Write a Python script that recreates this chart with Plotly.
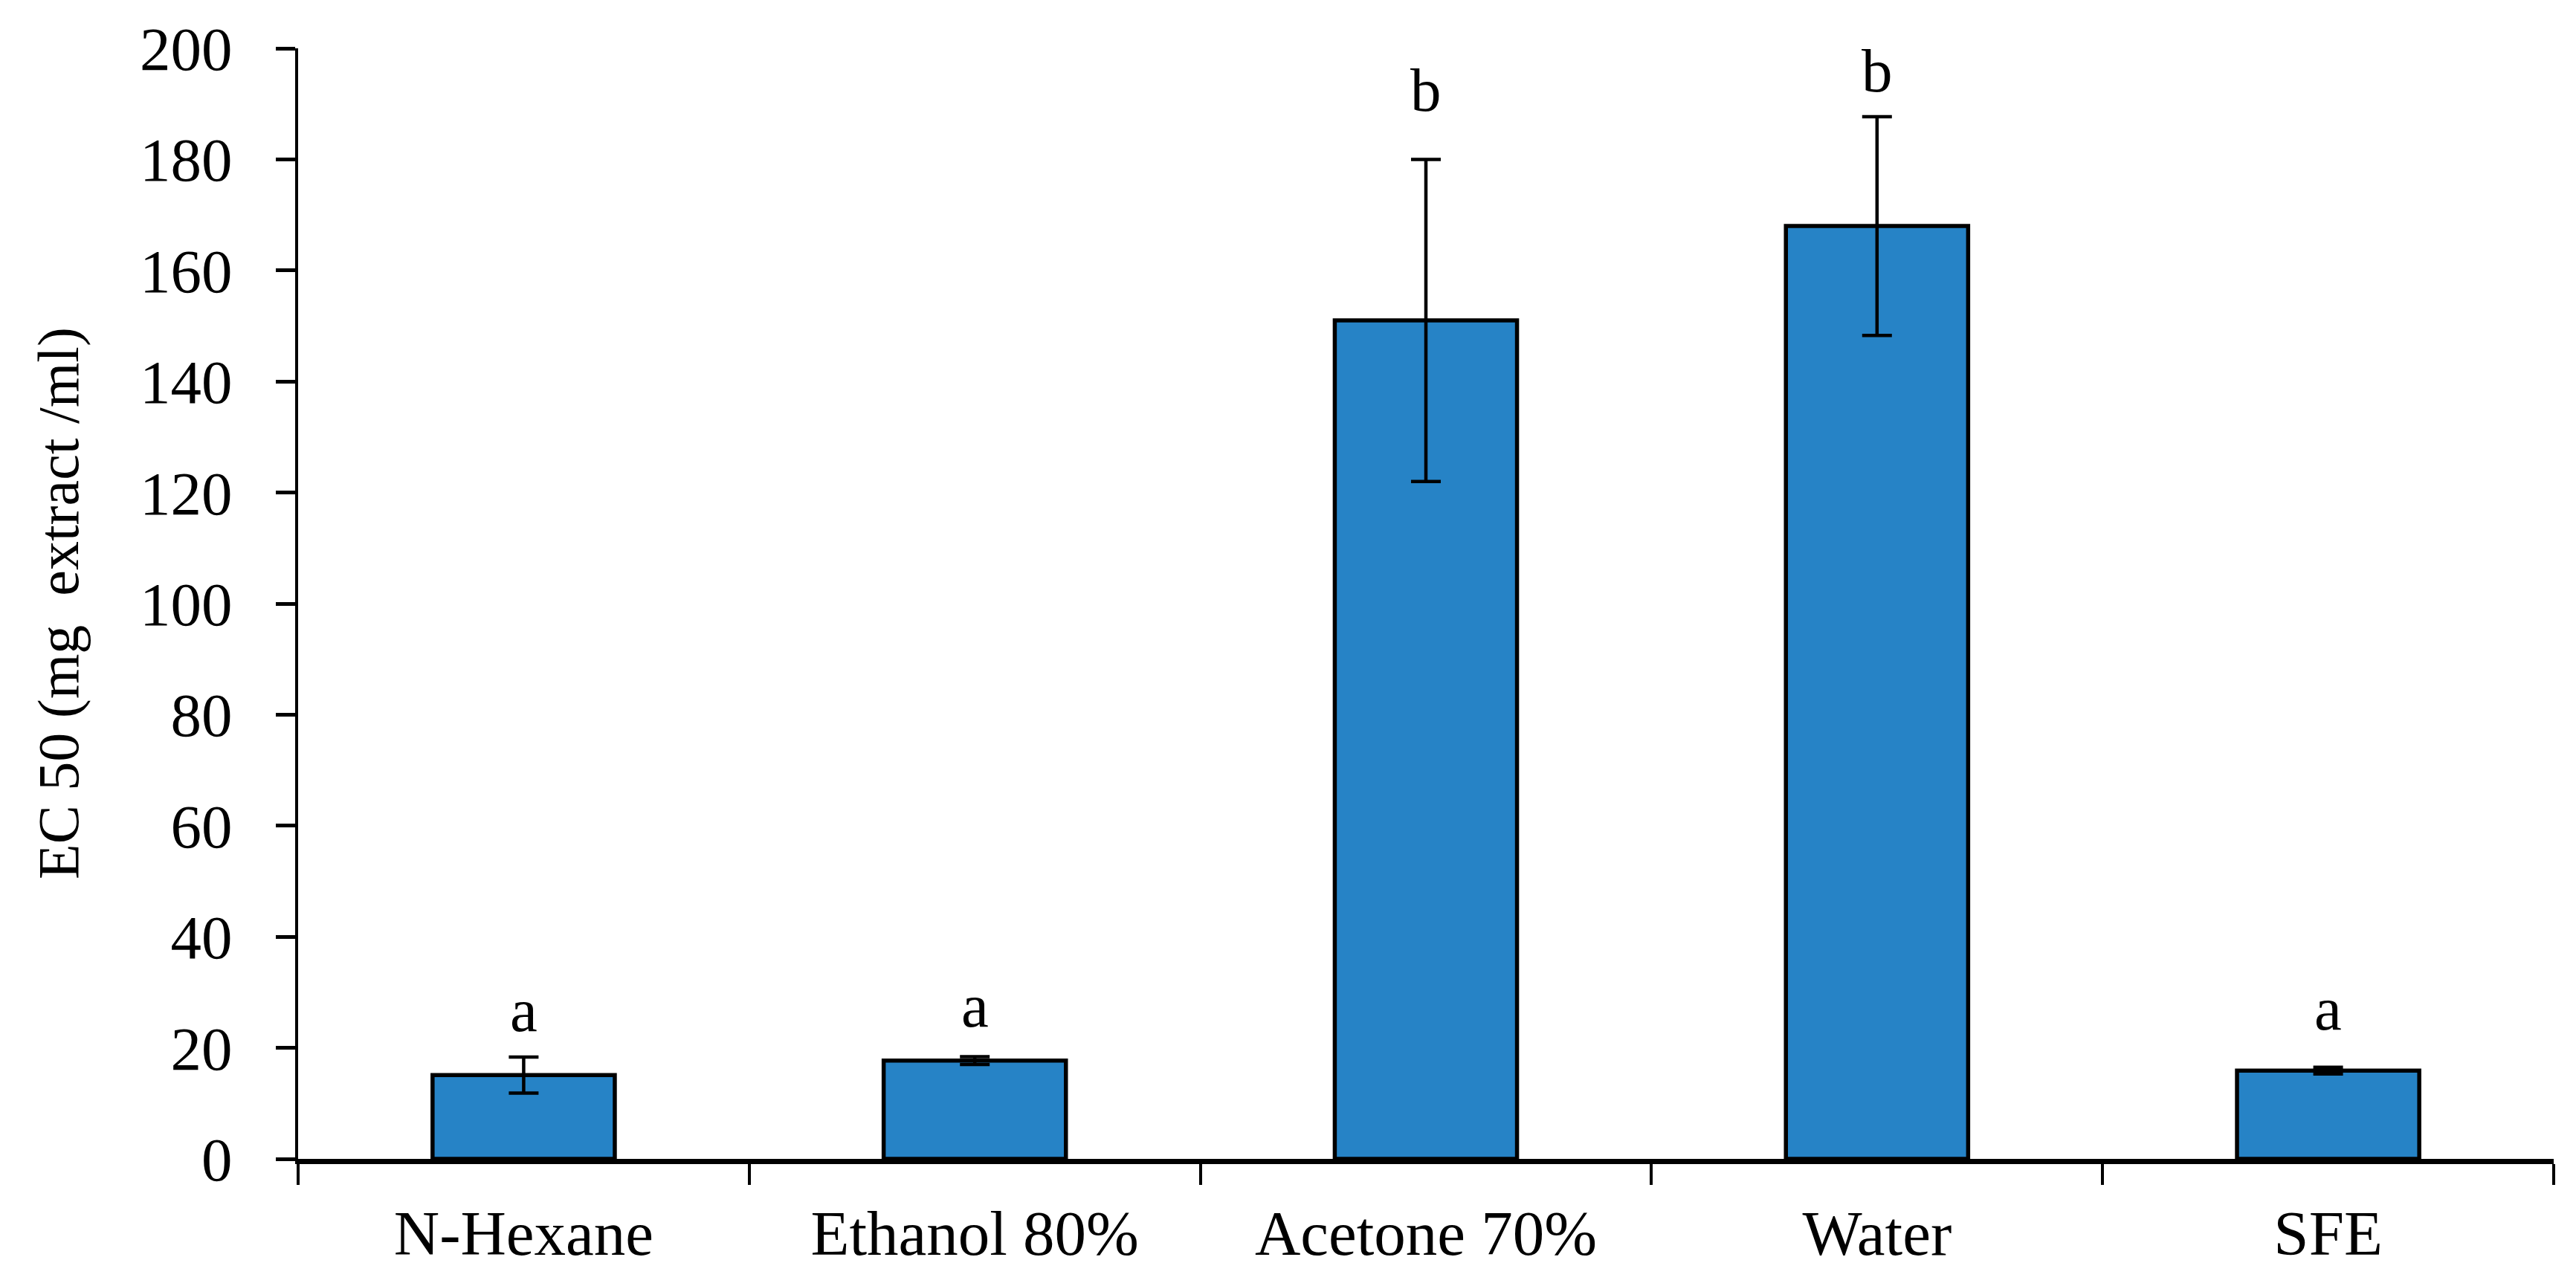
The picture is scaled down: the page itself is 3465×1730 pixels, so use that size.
import plotly.graph_objects as go

categories = ["N-Hexane", "Ethanol 80%", "Acetone 70%", "Water", "SFE"]
ec50 = [15.1, 17.7, 151.0, 168.0, 15.9]
ec50_err = [3.25, 0.7, 29.0, 19.7, 0.6]
letters = ["a", "a", "b", "b", "a"]
letter_y = [26.8, 27.6, 192.5, 196.0, 27.0]
y_ticks = list(range(0, 201, 20))

FONT = "Liberation Serif, Times New Roman, serif"
W, H = 3465, 1730
L, R, T, B = 393, 38, 57, 179

fig = go.Figure()
fig.add_trace(go.Bar(
    x=categories, y=ec50,
    marker=dict(color="#2683C6", line=dict(color="black", width=5.5)),
    error_y=dict(type="data", array=ec50_err, visible=True,
                 color="black", thickness=4.5, width=20),
    showlegend=False,
))

for c, t, yv in zip(categories, letters, letter_y):
    fig.add_annotation(x=c, y=yv, text=t, showarrow=False,
                       xref="x", yref="y", yanchor="middle",
                       font=dict(family=FONT, size=83, color="black"))

fig.add_annotation(x=(70 - L) / (W - L - R), y=0.5, xref="paper", yref="paper",
                   text="EC 50 (mg  extract /ml)", textangle=-90, showarrow=False,
                   xanchor="center", yanchor="middle",
                   font=dict(family=FONT, size=78, color="black"))

fig.update_layout(
    width=W, height=H,
    margin=dict(l=L, r=R, t=T, b=B, autoexpand=False),
    paper_bgcolor="white", plot_bgcolor="white",
    bargap=0.596,
    font=dict(family=FONT, size=83, color="black"),
)
fig.update_xaxes(
    showline=True, linecolor="black", linewidth=7,
    ticks="outside", tickson="boundaries", ticklen=28, tickwidth=4, tickcolor="black",
    showgrid=False, zeroline=False, ticklabelstandoff=20,
    tickfont=dict(family=FONT, size=85, color="black"),
    range=[-0.5, 4.5],
)
fig.update_yaxes(
    range=[0, 200], tickvals=y_ticks,
    showline=True, linecolor="black", linewidth=4,
    ticks="outside", ticklen=26, tickwidth=5, tickcolor="black",
    showgrid=False, zeroline=False, ticklabelstandoff=42,
    tickfont=dict(family=FONT, size=83, color="black"),
)

fig.write_html("out.html")
